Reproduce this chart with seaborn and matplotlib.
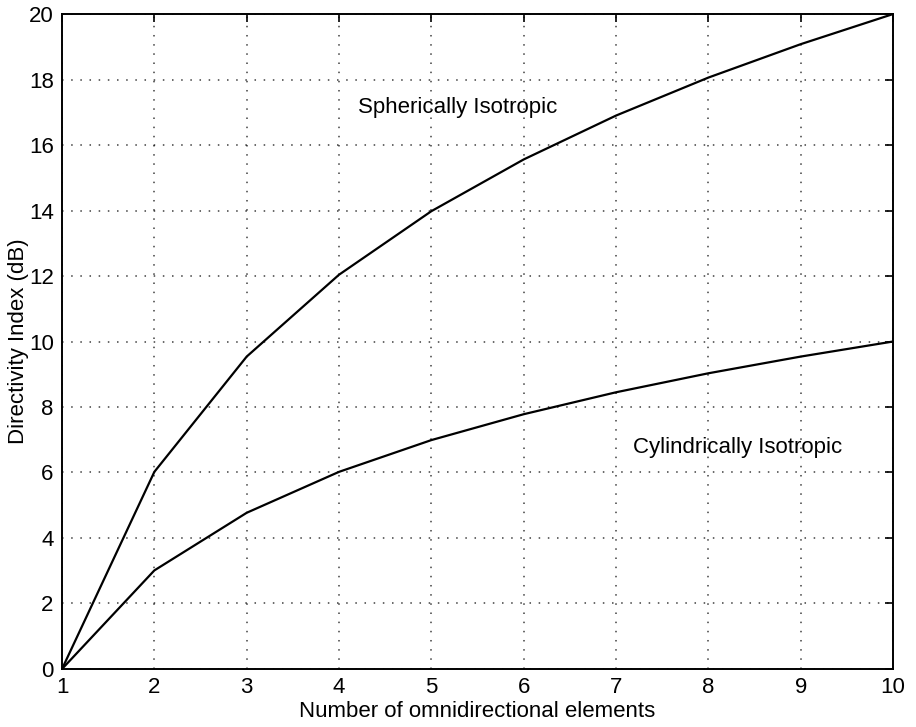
import matplotlib
matplotlib.use("Agg")
import matplotlib.pyplot as plt
import seaborn as sns
import pandas as pd

# Number of omnidirectional elements in the array
elements = [1, 2, 3, 4, 5, 6, 7, 8, 9, 10]
# Directivity index (dB) for each noise field
spherical_di = [0.0, 6.02, 9.54, 12.04, 13.98, 15.56, 16.90, 18.06, 19.08, 20.0]
cylindrical_di = [0.0, 3.01, 4.77, 6.02, 6.99, 7.78, 8.45, 9.03, 9.54, 10.0]

x_ticks = [1, 2, 3, 4, 5, 6, 7, 8, 9, 10]
y_ticks = [0, 2, 4, 6, 8, 10, 12, 14, 16, 18, 20]

df = pd.DataFrame({
    "elements": elements * 2,
    "di": spherical_di + cylindrical_di,
    "field": ["Spherically Isotropic"] * len(elements)
             + ["Cylindrically Isotropic"] * len(elements),
})

sns.set_theme(style="white")
plt.rcParams["font.family"] = ["Liberation Sans", "DejaVu Sans"]

fig = plt.figure(figsize=(9.16, 7.27), dpi=100)
ax = fig.add_axes([0.0677, 0.0798, 0.9073, 0.9009])

sns.lineplot(data=df, x="elements", y="di", hue="field",
             palette=["black", "black"], linewidth=1.6, legend=False, ax=ax)

ax.set_xlim(1, 10)
ax.set_ylim(0, 20)
ax.set_xticks(x_ticks)
ax.set_yticks(y_ticks)
ax.grid(True, linestyle=(0, (1, 5)), color="black", linewidth=1.1, alpha=0.75)
ax.tick_params(direction="in", length=6, width=1.2, labelsize=16,
               top=True, right=True, pad=6, color="black", labelcolor="black")
for side in ax.spines.values():
    side.set_color("black")
    side.set_linewidth(1.4)

ax.set_xlabel("Number of omnidirectional elements", fontsize=16, labelpad=2, color="black")
ax.set_ylabel("Directivity Index (dB)", fontsize=16, labelpad=0, color="black")

ax.text(5.29, 17.16, "Spherically Isotropic", fontsize=16,
        ha="center", va="center", color="black")
ax.text(8.32, 6.75, "Cylindrically Isotropic", fontsize=16,
        ha="center", va="center", color="black")

fig.savefig("out.png", dpi=100)
